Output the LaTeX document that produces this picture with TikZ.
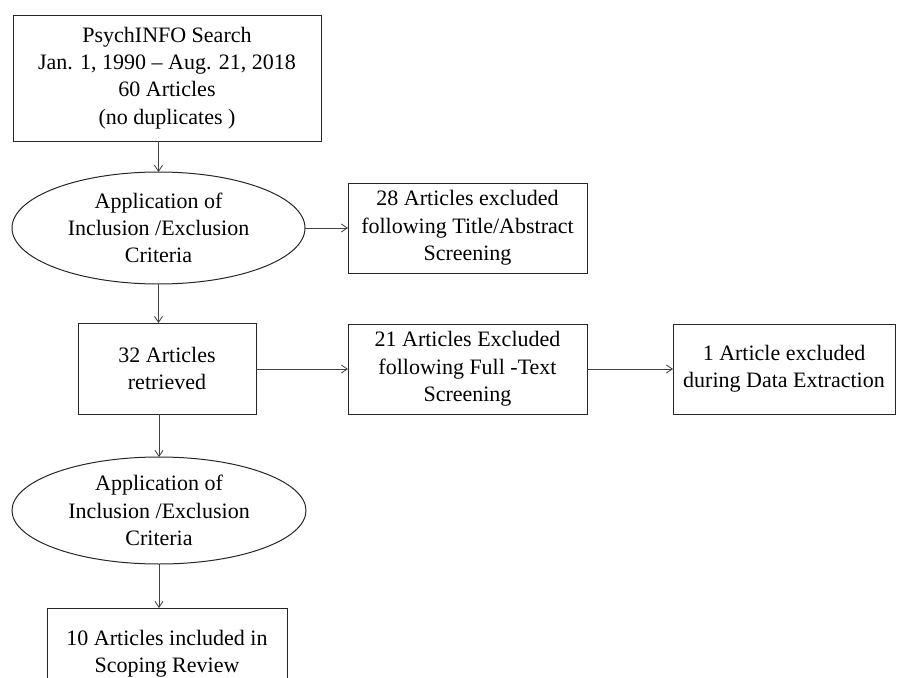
\documentclass[tikz,border=0pt]{standalone}
\usepackage{fontspec}
\setmainfont{Liberation Serif}
\usetikzlibrary{shapes.geometric,arrows.meta}
\begin{document}
\begin{tikzpicture}[x=0.75pt,y=-0.75pt,
  every node/.style={font=\fontsize{16.5}{20.5}\selectfont, align=center, text=black},
  box/.style={draw=black!85, line width=0.75pt, rectangle, inner sep=0pt, outer sep=0pt},
  oval/.style={draw=black!85, line width=0.75pt, ellipse, inner sep=0pt, outer sep=0pt},
  arr/.style={draw=black!75, line width=0.6pt, -{Straight Barb[length=4.5pt,width=6pt]}}]
\clip (0,0) rectangle (897,678);
\node[box, minimum width=231pt, minimum height=94.5pt] (b1) at (167,78)
  {PsychINFO Search\\Jan. 1, 1990 – Aug. 21, 2018\\60 Articles\\(no duplicates )};
\node[oval, minimum width=219.75pt, minimum height=84pt] (e1) at (158.5,228)
  {Application of\\Inclusion /Exclusion\\Criteria};
\node[box, minimum width=179.25pt, minimum height=67.5pt] (b2) at (467.5,228)
  {28 Articles excluded\\following Title/Abstract\\Screening};
\node[box, minimum width=133.5pt, minimum height=68.25pt] (b3) at (167,368.5)
  {32 Articles\\retrieved};
\node[box, minimum width=179.25pt, minimum height=67.5pt] (b4) at (467.5,369)
  {21 Articles Excluded\\following Full -Text\\Screening};
\node[box, minimum width=166.5pt, minimum height=67.5pt] (b5) at (784,369)
  {1 Article excluded\\during Data Extraction};
\node[oval, minimum width=220.5pt, minimum height=80.25pt] (e2) at (159,510.5)
  {Application of\\Inclusion /Exclusion\\Criteria};
\node[box, minimum width=180pt, minimum height=68.25pt] (b6) at (167,653.5)
  {10 Articles included in\\Scoping Review};
\draw[arr] (b1.south -| e1.north) -- (e1.north);
\draw[arr] (e1.east) -- (e1.east -| b2.west);
\draw[arr] (e1.south) -- (e1.south |- b3.north);
\draw[arr] (b3.east |- b4.west) -- (b4.west);
\draw[arr] (b4.east) -- (b5.west);
\draw[arr] (b3.south -| e2.north) -- (e2.north);
\draw[arr] (e2.south) -- (e2.south |- b6.north);
\end{tikzpicture}
\end{document}
